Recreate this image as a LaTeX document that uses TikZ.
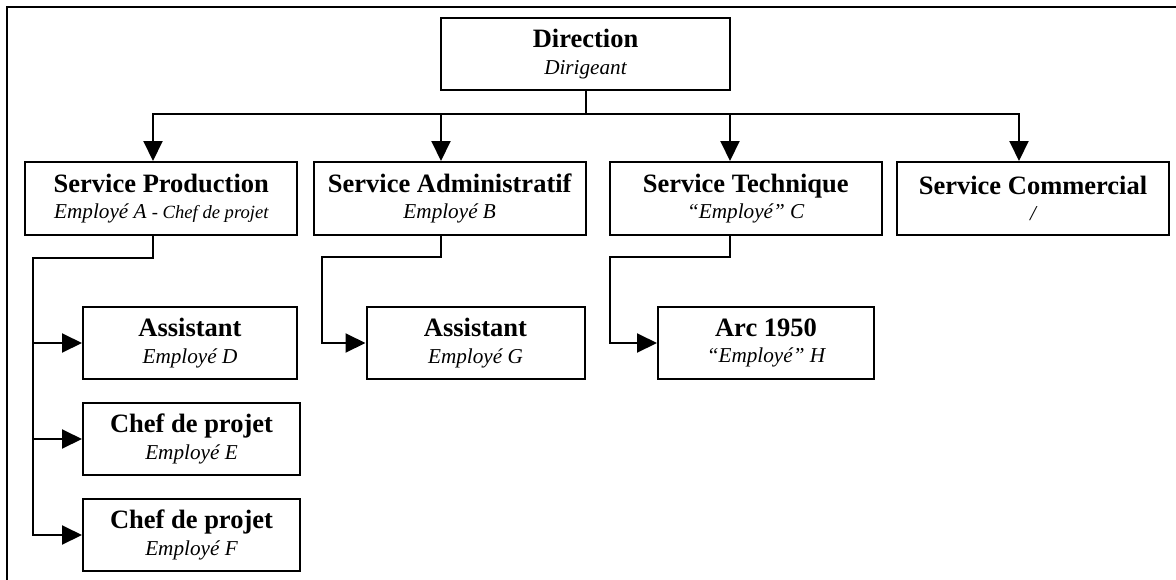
\documentclass[tikz,border=0pt]{standalone}
\usepackage{fontspec}
\setmainfont{Liberation Serif}
\usetikzlibrary{arrows.meta}

\newcommand{\titre}[1]{{\fontsize{26.5}{26.5}\selectfont\bfseries #1}}
\newcommand{\qui}[1]{{\fontsize{21.2}{26.5}\selectfont\itshape #1}}

\begin{document}
\begin{tikzpicture}[x=1pt,y=-1pt,line width=2pt,
  boite/.style={draw,rectangle,inner sep=0pt,align=center,minimum height=72pt,
    font=\fontsize{21.2}{26.5}\selectfont},
  fleche/.style={-{Triangle[length=20pt,width=19pt]}}]

\useasboundingbox (0,0) rectangle (1176,579);
\begin{scope}
\clip (0,0) rectangle (1176,579);
\draw (7,7) rectangle (1200,600);
\end{scope}

% direction
\node[boite,minimum width=289pt] (dir) at (585.5,54)
{\titre{Direction}\\\qui{Dirigeant}};

% services
\node[boite,minimum width=272pt,minimum height=73pt] (prod) at (161.3,198.5)
{\titre{Service Production}\\\qui{Employé A {\fontsize{18.6}{26.5}\selectfont - Chef de projet}}};
\node[boite,minimum width=272pt,minimum height=73pt] (admin) at (449.7,198.5)
{\titre{Service Administratif}\\\qui{Employé B}};
\node[boite,minimum width=272pt,minimum height=73pt] (tech) at (745.7,198.5)
{\titre{Service Technique}\\\qui{“Employé” C}};
\node[boite,minimum width=272pt,minimum height=73pt] (comm) at (1033,198.5)
{\titre{Service Commercial}\\\qui{/}};

% sous-services
\node[boite,minimum width=214pt] (assD) at (190,343)
{\titre{Assistant}\\\qui{Employé D}};
\node[boite,minimum width=217pt] (chefE) at (191.5,439)
{\titre{Chef de projet}\\\qui{Employé E}};
\node[boite,minimum width=217pt] (chefF) at (191.5,535)
{\titre{Chef de projet}\\\qui{Employé F}};
\node[boite,minimum width=218pt] (assG) at (475.5,343)
{\titre{Assistant}\\\qui{Employé G}};
\node[boite,minimum width=216pt] (arc) at (766,343)
{\titre{Arc 1950}\\\qui{“Employé” H}};

% liaisons
\coordinate (b1) at (153,114);
\coordinate (b2) at (441,114);
\coordinate (b3) at (730,114);
\coordinate (b4) at (1019,114);
\draw[fleche] (dir.south) |- (b1) -- (b1 |- prod.north);
\draw[fleche] (dir.south) |- (b4) -- (b4 |- comm.north);
\draw[fleche] (b2) -- (b2 |- admin.north);
\draw[fleche] (b3) -- (b3 |- tech.north);

\coordinate (p1) at (33,257.5);
\draw[fleche] (b1 |- prod.south) |- (p1) |- (chefF.west);
\foreach \n in {assD,chefE}
  \draw[fleche] (p1 |- \n.west) -- (\n.west);

\coordinate (a1) at (321.5,257);
\draw[fleche] (b2 |- admin.south) |- (a1) |- (assG.west);
\coordinate (t1) at (610,257);
\draw[fleche] (b3 |- tech.south) |- (t1) |- (arc.west);
\end{tikzpicture}
\end{document}
